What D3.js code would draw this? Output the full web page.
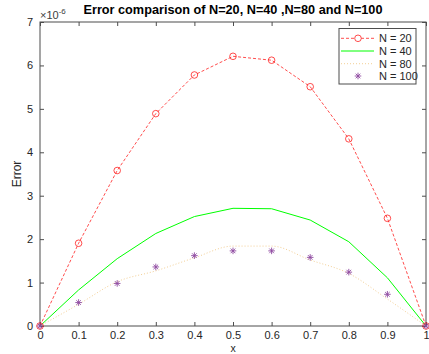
<!DOCTYPE html>
<html><head><meta charset="utf-8">
<script src="https://cdn.jsdelivr.net/npm/d3@7"></script>
<style>body{margin:0;background:#fff;} text{font-family:"Liberation Sans",Arial,sans-serif;}</style>
</head><body><svg id="c" width="429" height="354"></svg>
<script>
const xs = [0,0.1,0.2,0.3,0.4,0.5,0.6,0.7,0.8,0.9,1];
const n20 = [0,1.905,3.58,4.89,5.78,6.21,6.12,5.51,4.31,2.48,0];
const n40 = [0,0.83,1.55,2.13,2.52,2.71,2.70,2.44,1.94,1.11,0];
const n80 = [0,0.50,1.02,1.27,1.57,1.84,1.84,1.52,1.21,0.62,0];
const n100 = [0,0.54,0.98,1.36,1.62,1.73,1.73,1.58,1.24,0.73,0];
const xTicks = [0,0.1,0.2,0.3,0.4,0.5,0.6,0.7,0.8,0.9,1];
const yTicks = [0,1,2,3,4,5,6,7];
const legendLabels = ["N = 20","N = 40","N = 80","N = 100"];

const svg = d3.select("#c");
const L=40,R=426,T=22,B=326;
const x = d3.scaleLinear().domain([0,1]).range([L,R]);
const y = d3.scaleLinear().domain([0,7]).range([B,T]);
const ax="#4d4d4d", tx="#262626";

svg.append("rect").attr("x",L).attr("y",T).attr("width",R-L).attr("height",B-T).attr("fill","#fff");

function styleAxis(g){g.select(".domain").remove();g.selectAll("line").attr("stroke",ax);g.selectAll("text").attr("fill",tx).style("font-size","11px");}
svg.append("g").attr("transform",`translate(0,${B})`).call(d3.axisBottom(x).tickValues(xTicks).tickSize(-4).tickPadding(5).tickFormat(d=>d===0||d===1?d3.format("d")(d):d3.format(".1f")(d))).call(styleAxis);
svg.append("g").attr("transform",`translate(0,${T})`).call(d3.axisTop(x).tickValues(xTicks).tickSize(-4).tickFormat("")).call(styleAxis);
svg.append("g").attr("transform",`translate(${L},0)`).call(d3.axisLeft(y).tickValues(yTicks).tickSize(-4).tickPadding(7).tickFormat(d3.format("d"))).call(styleAxis);
svg.append("g").attr("transform",`translate(${R},0)`).call(d3.axisRight(y).tickValues(yTicks).tickSize(-4).tickFormat("")).call(styleAxis);
svg.append("rect").attr("x",L).attr("y",T).attr("width",R-L).attr("height",B-T).attr("fill","none").attr("stroke",ax).attr("stroke-width",1);

const line = d3.line().x((d,i)=>x(xs[i])).y(d=>y(d));
const smooth = d3.line().x((d,i)=>x(xs[i])).y(d=>y(d)).curve(d3.curveMonotoneX);
svg.append("path").attr("d",smooth(n80)).attr("fill","none").attr("stroke","#f3cf95").attr("stroke-width",1).attr("stroke-dasharray","1,2");
svg.append("path").attr("d",line(n40)).attr("fill","none").attr("stroke","#00ff00").attr("stroke-width",1);
svg.append("path").attr("d",line(n20)).attr("fill","none").attr("stroke","#ff2020").attr("stroke-width",0.8).attr("stroke-dasharray","3,2");
svg.selectAll(".c20").data(n20).enter().append("circle").attr("cx",(d,i)=>x(xs[i])).attr("cy",d=>y(d)).attr("r",3.3).attr("fill","none").attr("stroke","#ff2020").attr("stroke-width",0.8);

function star(g,cx,cy,s){
  const p=[[-s,0,s,0],[0,-s,0,s],[-s*0.7,-s*0.7,s*0.7,s*0.7],[-s*0.7,s*0.7,s*0.7,-s*0.7]];
  p.forEach(q=>g.append("line").attr("x1",cx+q[0]).attr("y1",cy+q[1]).attr("x2",cx+q[2]).attr("y2",cy+q[3]).attr("stroke","#8e4aa0").attr("stroke-width",0.9));
}
const sg=svg.append("g");
n100.forEach((d,i)=>star(sg,x(xs[i]),y(d),3.3));

// legend
const lg=svg.append("g");
lg.append("rect").attr("x",339).attr("y",28.5).attr("width",77).attr("height",55.5).attr("fill","#fff").attr("stroke",ax).attr("stroke-width",1);
const ly=[38.3,51,63.7,76];
lg.append("line").attr("x1",341).attr("x2",374).attr("y1",ly[0]).attr("y2",ly[0]).attr("stroke","#ff2020").attr("stroke-width",0.8).attr("stroke-dasharray","3,2");
lg.append("circle").attr("cx",358).attr("cy",ly[0]).attr("r",3.3).attr("fill","#fff").attr("stroke","#ff2020").attr("stroke-width",0.8);
lg.append("line").attr("x1",341).attr("x2",374).attr("y1",ly[1]).attr("y2",ly[1]).attr("stroke","#00ff00").attr("stroke-width",1);
lg.append("line").attr("x1",341).attr("x2",374).attr("y1",ly[2]).attr("y2",ly[2]).attr("stroke","#f3cf95").attr("stroke-width",1).attr("stroke-dasharray","1,2");
star(lg,358,ly[3],3.3);
legendLabels.forEach((t,i)=>lg.append("text").attr("x",379).attr("y",ly[i]).attr("dy","0.35em").attr("fill",tx).style("font-size","11px").text(t));

// title and labels
svg.append("text").attr("x",233).attr("y",14).attr("text-anchor","middle").attr("font-weight","bold").style("font-size","12.7px").attr("fill","#000").text("Error comparison of N=20, N=40 ,N=80 and N=100");
const ex=svg.append("text").attr("x",40).attr("y",19).attr("fill","#404040").style("font-size","11px");
ex.append("tspan").text("×10");
ex.append("tspan").attr("dy","-5").style("font-size","8px").text("-6");
svg.append("text").attr("x",233).attr("y",351.5).attr("text-anchor","middle").attr("fill",tx).style("font-size","10.5px").text("x");
svg.append("text").attr("transform","translate(21,174) rotate(-90)").attr("text-anchor","middle").attr("fill",tx).style("font-size","12px").text("Error");
</script></body></html>
